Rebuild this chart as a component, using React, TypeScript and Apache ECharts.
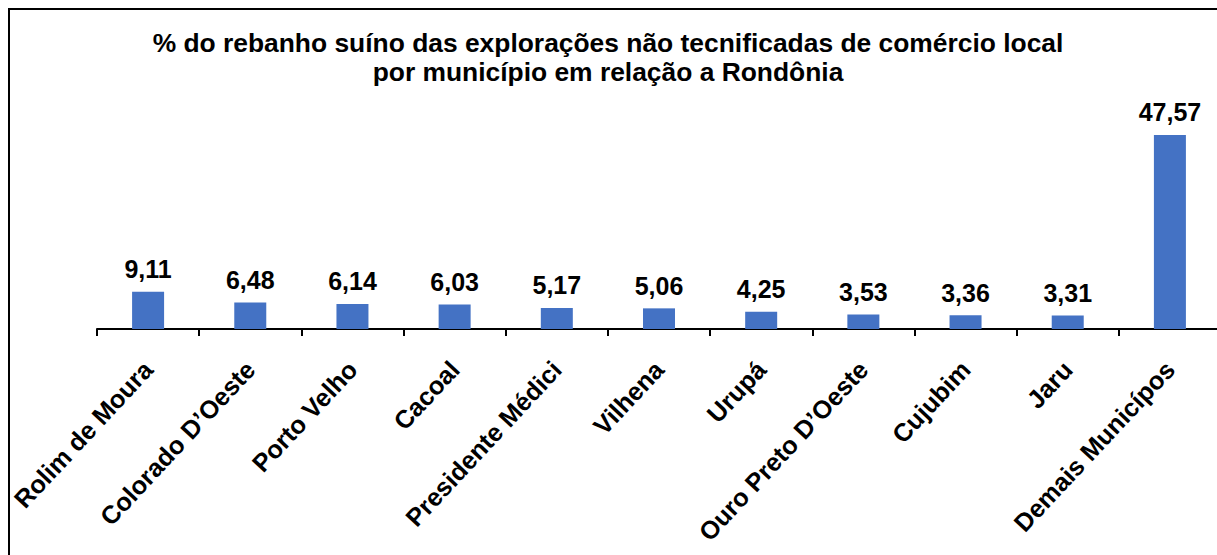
import React, { useEffect, useRef } from "react";
import * as echarts from "echarts";

const categories = [
  "Rolim de Moura",
  "Colorado D’Oeste",
  "Porto Velho",
  "Cacoal",
  "Presidente Médici",
  "Vilhena",
  "Urupá",
  "Ouro Preto D’Oeste",
  "Cujubim",
  "Jaru",
  "Demais Municípos",
];
const values = [9.11, 6.48, 6.14, 6.03, 5.17, 5.06, 4.25, 3.53, 3.36, 3.31, 47.57];
const titleLines = [
  "% do rebanho suíno das explorações não tecnificadas de comércio local",
  "por município em relação a Rondônia",
];

const FONT = "'Liberation Sans', Arial, sans-serif";

export default function App() {
  const ref = useRef<HTMLDivElement>(null);
  useEffect(() => {
    if (!ref.current) return;
    const chart = echarts.init(ref.current, null, { renderer: "svg" });
    chart.setOption({
      animation: false,
      backgroundColor: "#ffffff",
      title: {
        text: titleLines.join("\n"),
        left: 595,
        textAlign: "center",
        top: 15,
        textStyle: {
          fontFamily: FONT,
          fontWeight: "bold",
          fontSize: 26.4,
          lineHeight: 29,
          color: "#000000",
        },
      },
      graphic: [
        {
          type: "rect",
          shape: { x: 1, y: 1, width: 1300, height: 700 },
          style: { fill: "none", stroke: "#000000", lineWidth: 2 },
          silent: true,
        },
      ],
      grid: {
        left: 89,
        top: 117,
        width: 1124,
        bottom: 226,
        containLabel: false,
        outerBoundsMode: "none",
      },
      xAxis: {
        type: "category",
        data: categories,
        axisLine: { show: true, lineStyle: { color: "#000000", width: 2 } },
        axisTick: { show: true, length: 7, lineStyle: { color: "#000000", width: 2 } },
        axisLabel: {
          interval: 0,
          rotate: 47,
          margin: 36,
          fontFamily: FONT,
          fontWeight: "bold",
          fontSize: 25.3,
          color: "#000000",
        },
      },
      yAxis: {
        type: "value",
        min: 0,
        max: 50,
        show: false,
        splitLine: { show: false },
      },
      series: [
        {
          type: "bar",
          data: values,
          barWidth: 32,
          itemStyle: { color: "#4472C4" },
          label: {
            show: true,
            position: "top",
            distance: 10,
            formatter: (p: any) => p.value.toFixed(2).replace(".", ","),
            fontFamily: FONT,
            fontWeight: "bold",
            fontSize: 25,
            color: "#000000",
          },
        },
      ],
    });
    return () => chart.dispose();
  }, []);
  return (
    <div
      ref={ref}
      style={{ position: "absolute", left: 8, top: 8, width: 1209, height: 547 }}
    />
  );
}
